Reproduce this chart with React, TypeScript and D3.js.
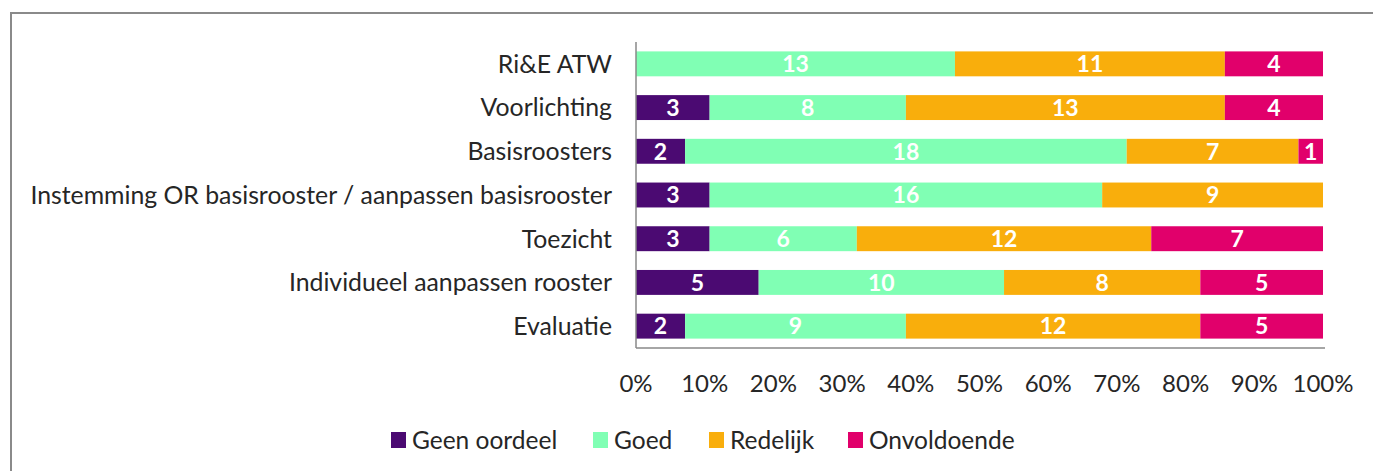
import { useEffect, useRef } from 'react';
import * as d3 from 'd3';

const categories = [
  'Ri&E ATW',
  'Voorlichting',
  'Basisroosters',
  'Instemming OR basisrooster / aanpassen basisrooster',
  'Toezicht',
  'Individueel aanpassen rooster',
  'Evaluatie',
];
const seriesNames = ['Geen oordeel', 'Goed', 'Redelijk', 'Onvoldoende'];
const geenOordeel = [0, 3, 2, 3, 3, 5, 2];
const goed = [13, 8, 18, 16, 6, 10, 9];
const redelijk = [11, 13, 7, 9, 12, 8, 12];
const onvoldoende = [4, 4, 1, 0, 7, 5, 5];
const colors = ['#4b0a72', '#80ffb4', '#f9ae0c', '#e1006b'];
const tickValues = [0, 0.1, 0.2, 0.3, 0.4, 0.5, 0.6, 0.7, 0.8, 0.9, 1];

const FONT = 'Lato, "Open Sans", sans-serif';

const App = () => {
  const ref = useRef<SVGSVGElement | null>(null);

  useEffect(() => {
    const svg = d3.select(ref.current);
    svg.selectAll('*').remove();

    const left = 636, right = 1323, top = 42, bottom = 348;

    // outer frame
    svg.append('rect')
      .attr('x', 11).attr('y', 13)
      .attr('width', 1400).attr('height', 500)
      .attr('fill', 'none').attr('stroke', '#8a8a8a').attr('stroke-width', 2);

    const table = categories.map((c, i) => ({
      cat: c,
      vals: [geenOordeel[i], goed[i], redelijk[i], onvoldoende[i]],
    }));

    const x = d3.scaleLinear().domain([0, 1]).range([left, right]);
    const y = d3.scaleBand().domain(categories).range([top, bottom]).paddingInner(0.43).paddingOuter(0.215);

    const g = svg.append('g');

    table.forEach(row => {
      const total = d3.sum(row.vals);
      let acc = 0;
      row.vals.forEach((v, k) => {
        const x0 = x(acc / total);
        acc += v;
        const x1 = x(acc / total);
        if (v === 0) return;
        g.append('rect')
          .attr('x', x0).attr('y', y(row.cat)!)
          .attr('width', x1 - x0).attr('height', y.bandwidth())
          .attr('fill', colors[k]);
        g.append('text')
          .attr('x', (x0 + x1) / 2).attr('y', y(row.cat)! + y.bandwidth() / 2)
          .attr('dy', '0.36em')
          .attr('text-anchor', 'middle')
          .attr('fill', '#fff')
          .attr('font-family', FONT)
          .attr('font-weight', 'bold')
          .attr('font-size', 23)
          .text(v);
      });
    });

    // axis lines
    svg.append('line').attr('x1', left).attr('x2', left).attr('y1', top).attr('y2', bottom)
      .attr('stroke', '#888').attr('stroke-width', 1.5);
    svg.append('line').attr('x1', left).attr('x2', right + 2).attr('y1', bottom).attr('y2', bottom)
      .attr('stroke', '#888').attr('stroke-width', 1.5);

    // category labels
    svg.append('g').selectAll('text').data(categories).enter().append('text')
      .attr('x', left - 24)
      .attr('y', d => y(d)! + y.bandwidth() / 2)
      .attr('dy', '0.36em')
      .attr('text-anchor', 'end')
      .attr('fill', '#262626')
      .attr('font-family', FONT)
      .attr('font-size', 24.8)
      .text(d => d);

    // tick labels
    svg.append('g').selectAll('text').data(tickValues).enter().append('text')
      .attr('x', d => x(d))
      .attr('y', 392)
      .attr('text-anchor', 'middle')
      .attr('fill', '#262626')
      .attr('font-family', FONT)
      .attr('font-size', 24)
      .text(d => d3.format('.0%')(d));

    // legend
    const legendX = [391, 593, 709, 848];
    const lg = svg.append('g');
    seriesNames.forEach((s, i) => {
      lg.append('rect')
        .attr('x', legendX[i]).attr('y', 432)
        .attr('width', 15).attr('height', 16)
        .attr('fill', colors[i]);
      lg.append('text')
        .attr('x', legendX[i] + 21).attr('y', 440)
        .attr('dy', '0.36em')
        .attr('fill', '#262626')
        .attr('font-family', FONT)
        .attr('font-size', 24.5)
        .text(s);
    });
  }, []);

  return (
    <svg ref={ref} width={1373} height={471}
      style={{ position: 'absolute', left: 0, top: 0, background: '#fff' }} />
  );
};

export default App;
